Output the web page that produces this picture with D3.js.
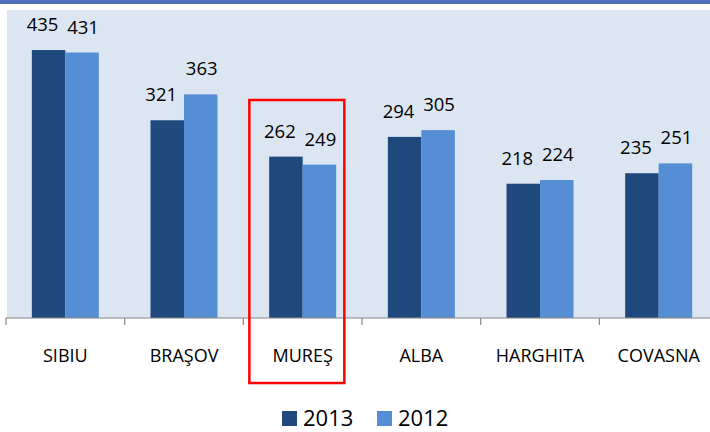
<!DOCTYPE html>
<html>
<head>
<meta charset="utf-8">
<script src="https://cdn.jsdelivr.net/npm/d3@7"></script>
<style>
  html, body { margin: 0; padding: 0; background: #fff; }
  svg { display: block; }
  text { font-family: "Open Sans", "Liberation Sans", sans-serif; fill: #000; }
</style>
</head>
<body>
<svg id="chart" width="710" height="432"></svg>
<script>
const categories = ["SIBIU", "BRAŞOV", "MUREŞ", "ALBA", "HARGHITA", "COVASNA"];
const seriesNames = ["2013", "2012"];
const values2013 = [435, 321, 262, 294, 218, 235];
const values2012 = [431, 363, 249, 305, 224, 251];
const seriesColors = ["#1F497D", "#558ED5"];
const highlighted = "MUREŞ";

const svg = d3.select("#chart");
const W = 710, H = 432;

// top band
svg.append("rect").attr("x", 0).attr("y", 0).attr("width", W).attr("height", 4).attr("fill", "#4A6FB7");

const plotTop = 10, plotBottom = 318, plotLeft = 7;
svg.append("rect").attr("x", plotLeft).attr("y", plotTop)
  .attr("width", W - plotLeft).attr("height", plotBottom - plotTop)
  .attr("fill", "#DCE6F2");

const x = d3.scaleBand().domain(categories).range([6, 6 + 118.67 * categories.length]).padding(0);
const barW = 33.5;
const xs = d3.scaleBand().domain(seriesNames)
  .range([x.bandwidth() / 2 - barW, x.bandwidth() / 2 + barW]).padding(0);
const y = d3.scaleLinear().domain([0, 500]).range([plotBottom, plotTop]);
const labelShift = { "2013": -6, "2012": 1 };

const data = categories.map((c, i) => ({ cat: c, vals: [
  { s: "2013", v: values2013[i], color: seriesColors[0] },
  { s: "2012", v: values2012[i], color: seriesColors[1] }
]}));

const g = svg.selectAll("g.cat").data(data).join("g")
  .attr("class", "cat")
  .attr("transform", d => `translate(${x(d.cat)},0)`);

g.selectAll("rect").data(d => d.vals).join("rect")
  .attr("x", d => xs(d.s))
  .attr("width", xs.bandwidth())
  .attr("y", d => y(d.v))
  .attr("height", d => plotBottom - y(d.v))
  .attr("fill", d => d.color);

g.selectAll("text.val").data(d => d.vals).join("text")
  .attr("class", "val")
  .attr("x", d => xs(d.s) + xs.bandwidth() / 2 + labelShift[d.s])
  .attr("y", d => y(d.v) - 19)
  .attr("text-anchor", "middle")
  .attr("font-size", 18.5)
  .text(d => d.v);

// axis
const axis = d3.axisBottom(x).tickSize(0).tickPadding(0);
const ax = svg.append("g").attr("transform", `translate(0,${plotBottom})`).call(axis);
ax.select(".domain").remove();
ax.selectAll("text").attr("dy", null).attr("y", 44)
  .attr("font-size", 18).attr("font-family", "Open Sans").attr("fill", "#000");
svg.append("line").attr("x1", 6).attr("x2", W).attr("y1", plotBottom).attr("y2", plotBottom)
  .attr("stroke", "#868686").attr("stroke-width", 1.2);
const boundaries = categories.map(c => x(c));
svg.selectAll("line.tick").data(boundaries).join("line")
  .attr("class", "tick")
  .attr("x1", d => d).attr("x2", d => d)
  .attr("y1", plotBottom).attr("y2", plotBottom + 7)
  .attr("stroke", "#868686").attr("stroke-width", 1.2);

// highlight rectangle
svg.append("rect")
  .attr("x", x(highlighted) + 6).attr("y", 100)
  .attr("width", 95).attr("height", 283)
  .attr("fill", "none").attr("stroke", "#FF0000").attr("stroke-width", 2.5);

// legend
const legendX = [282, 377];
const lg = svg.selectAll("g.leg").data(seriesNames).join("g")
  .attr("class", "leg")
  .attr("transform", (d, i) => `translate(${legendX[i]},411)`);
lg.append("rect").attr("width", 15).attr("height", 15).attr("fill", (d, i) => seriesColors[i]);
lg.append("text").attr("x", 21).attr("y", 15).attr("font-size", 22).text(d => d);
</script>
</body>
</html>
